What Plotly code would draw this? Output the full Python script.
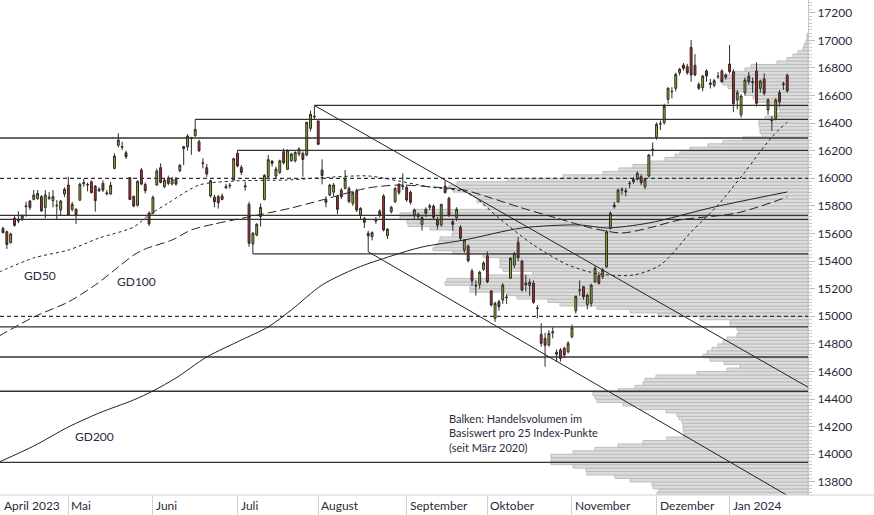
import pandas as pd
import plotly.graph_objects as go

# ---------------- data ----------------
holidays = ["2023-04-07", "2023-04-10", "2023-05-01", "2023-12-25", "2023-12-26", "2024-01-01"]
dates = pd.bdate_range("2023-04-04", "2024-01-23", freq="C", holidays=holidays)

open_ = [15637,15613,15533,15712,15690,15703,15795,15835,15847,15852,
         15867,15789,15855,15838,15805,15770,15886,15951,15775,15777,
         15842,15960,15955,15975,15944,15910,15963,15888,15886,16072,
         16239,16225,16185,16005,15869,15804,16060,15956,15748,15746,
         15951,16077,15939,16002,15958,15995,16055,16215,16229,16295,
         16309,16265,16112,16077,15872,15864,15867,15872,15930,15950,
         15987,16181,16079,15945,15811,15524,15589,15722,15847,16012,
         16125,16016,16043,16193,16065,16127,16127,16176,16181,16169,
         16362,16450,16415,16060,15845,15879,15900,15867,15915,15927,
         15927,15818,15910,15734,15710,15601,15577,15690,15763,15872,
         15584,15758,15831,15956,15940,15934,15898,15734,15722,15666,
         15775,15790,15799,15700,15662,15944,15855,15686,15715,15645,
         15480,15509,15328,15225,15232,15340,15439,15183,14985,15106,
         15118,15140,15275,15371,15536,15400,15240,15222,15239,15060,
         14869,14840,14792,14880,14740,14756,14768,14743,14852,15040,
         15190,15214,15086,15094,15251,15294,15287,15359,15637,15806,
         15831,15920,15910,15960,15975,15992,16012,15939,16017,16200,
         16297,16395,16403,16572,16630,16652,16765,16821,16809,16949,
         16819,16681,16657,16778,16690,16674,16740,16778,16732,16828,
         16773,16567,16460,16621,16741,16700,16778,16652,16720,16495,
         16425,16435,16621,16685,16744]
high = [15649,15620,15606,15725,15760,15740,15830,15842,15915,15915,
        15879,15915,15900,15915,15842,15842,15934,16011,15830,15780,
        15968,15995,15970,15985,15950,15935,15985,15915,15975,16181,
        16326,16265,16200,16010,15875,15985,16075,15970,15760,15875,
        16070,16108,16000,16020,16010,16010,16105,16235,16320,16300,
        16427,16280,16145,16105,15990,15880,15880,15890,15960,15965,
        16150,16203,16096,15975,15830,15610,15675,15818,16030,16170,
        16130,16085,16135,16215,16210,16185,16195,16225,16195,16410,
        16490,16528,16420,16137,15870,15960,15965,15880,15930,16060,
        15940,15910,15925,15790,15720,15620,15615,15720,15775,15885,
        15640,15800,15935,15965,16036,15955,15910,15780,15750,15725,
        15790,15815,15810,15720,15815,15985,15865,15700,15790,15660,
        15560,15520,15345,15260,15330,15400,15470,15190,15105,15120,
        15240,15160,15430,15465,15575,15410,15300,15270,15260,15080,
        14950,14880,14900,14920,14760,14770,14780,14820,14940,15150,
        15260,15220,15165,15235,15365,15320,15350,15625,15760,15830,
        15925,15935,15930,15980,16010,16050,16030,16000,16175,16260,
        16405,16420,16540,16660,16660,16765,16800,16835,16830,17002,
        16900,16695,16750,16790,16720,16720,16770,16790,16760,16966,
        16790,16640,16610,16730,16770,16730,16840,16715,16760,16580,
        16450,16580,16640,16700,16760]
low = [15601,15488,15528,15650,15674,15690,15722,15770,15840,15845,
       15758,15710,15842,15790,15698,15734,15866,15730,15760,15669,
       15835,15939,15905,15890,15758,15900,15900,15875,15880,16065,
       16225,16205,16140,15845,15790,15795,15950,15890,15655,15740,
       15945,15963,15930,15950,15950,15945,16045,16096,16200,16170,
       16300,16190,16072,16010,15860,15790,15780,15840,15925,15925,
       15980,16080,16024,15910,15504,15452,15580,15650,15840,16000,
       16085,16000,16030,16100,16060,16120,16115,16160,16012,16160,
       16340,16430,16240,15956,15790,15870,15870,15740,15850,15920,
       15820,15800,15755,15700,15640,15468,15550,15670,15715,15615,
       15560,15745,15820,15880,15915,15830,15810,15700,15700,15620,
       15720,15770,15700,15630,15650,15890,15720,15620,15690,15545,
       15460,15390,15220,15150,15200,15330,15240,15070,14960,15040,
       15090,15090,15270,15350,15400,15180,15180,15150,15090,14985,
       14780,14635,14780,14840,14670,14671,14700,14730,14840,15020,
       15150,15120,15050,15070,15240,15230,15270,15350,15630,15780,
       15820,15880,15870,15930,15960,15985,15950,15920,16005,16160,
       16280,16350,16390,16540,16580,16630,16745,16780,16750,16700,
       16740,16640,16630,16700,16650,16660,16720,16690,16715,16760,
       16480,16500,16440,16600,16680,16620,16520,16620,16600,16460,
       16345,16420,16520,16640,16620]
close = [15606,15521,15596,15659,15700,15729,15800,15789,15879,15890,
         15763,15879,15862,15867,15801,15835,15920,15734,15811,15734,
         15956,15968,15952,15896,15838,15920,15915,15893,15949,16161,
         16277,16229,16156,15847,15799,15978,15958,15910,15669,15862,
         16053,15970,15987,15963,15992,15958,16094,16230,16306,16290,
         16354,16200,16108,16031,15983,15830,15823,15847,15940,15946,
         16142,16089,16043,15939,15529,15601,15666,15789,16021,16135,
         16108,16067,16127,16113,16200,16176,16188,16212,16137,16405,
         16463,16446,16246,16020,15826,15951,15951,15775,15867,15992,
         15831,15896,15770,15782,15681,15582,15606,15700,15734,15625,
         15630,15790,15927,15896,15944,15843,15826,15770,15739,15715,
         15746,15800,15717,15660,15811,15896,15734,15666,15775,15565,
         15553,15403,15258,15220,15319,15386,15251,15082,15094,15070,
         15226,15135,15420,15456,15425,15190,15231,15246,15101,15057,
         14804,14790,14876,14888,14725,14695,14719,14804,14917,15144,
         15189,15142,15154,15226,15347,15239,15335,15613,15746,15794,
         15915,15915,15903,15963,15992,16036,15968,15992,16169,16210,
         16391,16394,16524,16652,16628,16753,16790,16797,16765,16749,
         16749,16652,16741,16741,16681,16707,16736,16700,16749,16773,
         16540,16620,16596,16712,16700,16695,16543,16705,16616,16567,
         16418,16567,16555,16681,16633]

# moving averages
gd50_dates = ["2023-04-03","2023-04-18","2023-05-02","2023-05-12","2023-05-25","2023-05-31","2023-06-07",
              "2023-06-19","2023-06-30","2023-07-20","2023-08-01","2023-08-18","2023-08-30","2023-09-11",
              "2023-09-25","2023-10-05","2023-10-18","2023-10-31","2023-11-10","2023-11-23","2023-12-04",
              "2023-12-14","2023-12-27","2024-01-08","2024-01-17","2024-01-23"]
gd50_vals = [15321,15423,15480,15567,15647,15734,15821,15951,15980,15988,16002,16017,15980,15937,
             15894,15712,15517,15372,15307,15299,15372,15611,15807,16046,16299,16408]
gd100_dates = ["2023-04-03","2023-04-18","2023-05-02","2023-05-11","2023-05-19","2023-05-25","2023-05-30",
               "2023-06-08","2023-06-15","2023-06-23","2023-06-30","2023-07-13","2023-07-21","2023-08-02",
               "2023-08-18","2023-08-30","2023-09-12","2023-09-22","2023-10-03","2023-10-13","2023-10-26",
               "2023-11-08","2023-11-20","2023-11-29","2023-12-11","2024-01-04","2024-01-23"]
gd100_vals = [14857,14995,15104,15227,15357,15444,15488,15553,15626,15669,15698,15749,15785,15843,
              15930,15951,15937,15915,15857,15785,15712,15640,15604,15640,15698,15749,15865]
gd200_dates = ["2023-04-03","2023-04-18","2023-05-02","2023-05-12","2023-05-25","2023-06-01","2023-06-09",
               "2023-06-21","2023-07-04","2023-07-13","2023-07-21","2023-08-02","2023-08-15","2023-08-28",
               "2023-09-07","2023-09-22","2023-10-13","2023-11-03","2023-11-14","2023-11-29","2023-12-22",
               "2024-01-23"]
gd200_vals = [13944,14060,14198,14299,14394,14459,14553,14705,14828,14923,15046,15227,15350,15437,
              15502,15553,15640,15662,15640,15676,15792,15901]

# support / resistance levels (start date None = from left edge)
level_prices = [16528, 16427, 16292, 16203, 16000, 15732, 15703, 15452, 15000, 14923, 14705, 14457, 13942]
level_starts = ["2023-07-31", "2023-06-16", None, "2023-07-03", None, None, None, "2023-07-07",
                None, None, None, None, None]
level_dashed = [False, False, False, False, True, False, False, False, True, False, False, False, False]

# trend channel
trend_upper_dates = ["2023-07-31", "2024-01-31"]
trend_upper_vals = [16528, 14477]
trend_lower_dates = ["2023-08-18", "2024-01-25"]
trend_lower_vals = [15468, 13670]

# volume profile (per 25 index points, lower bin edge from 13700)
vp_step = 25
vp_start = 13700
vp_volume = [151,149,155,156,178,193,221,222,235,257,257,257,235,
             213,190,165,141,124,124,125,125,126,129,131,142,
             168,185,211,213,215,190,173,165,163,152,111,81,
             68,84,98,105,101,96,90,85,81,71,69,71,
             78,78,108,150,178,211,248,260,291,301,338,338,
             363,361,320,275,305,308,308,308,325,355,375,372,
             369,368,356,355,378,400,401,408,408,395,320,325,
             331,331,338,355,359,351,300,245,205,189,175,158,
             143,133,128,118,100,85,65,46,48,48,49,49,
             43,30,28,33,41,51,55,63,73,80,85,88,
             86,73,63,57,31,21,15,10,5,4,2,1,1]
vp_levels = [vp_start + vp_step * i + vp_step / 2 for i in range(len(vp_volume))]

yticks = list(range(13800, 17201, 200))
month_dates = ["2023-05-02", "2023-06-01", "2023-07-03", "2023-08-01", "2023-09-01",
               "2023-10-02", "2023-11-01", "2023-12-01", "2024-01-02"]
month_labels = ["Mai", "Juni", "Juli", "August", "September", "Oktober", "November", "Dezember", "Jan 2024"]

# ---------------- figure ----------------
X_START = "2023-04-03 05:17"
X_END = "2024-01-30 09:36"
FONT = "Lato, Open Sans, sans-serif"
TXT = "#2a2a3c"

fig = go.Figure()

# volume profile on base axis (drawn beneath)
fig.add_trace(go.Bar(x=vp_volume, y=vp_levels, orientation="h", width=vp_step,
                     marker=dict(color="#dcdcdc", line=dict(color="#bcbcbc", width=1)),
                     xaxis="x", yaxis="y", hoverinfo="skip", showlegend=False))

# levels
for p, s, d in zip(level_prices, level_starts, level_dashed):
    fig.add_trace(go.Scatter(x=[s or X_START, X_END], y=[p, p], mode="lines", xaxis="x2", yaxis="y",
                             line=dict(color="#333333", width=1.3, dash="4px,3px" if d else "solid"),
                             hoverinfo="skip", showlegend=False))

# trend lines
for dx, vy in [(trend_upper_dates, trend_upper_vals), (trend_lower_dates, trend_lower_vals)]:
    fig.add_trace(go.Scatter(x=dx, y=vy, mode="lines", xaxis="x2", yaxis="y",
                             line=dict(color="#222222", width=1), hoverinfo="skip", showlegend=False))

# moving averages
for dx, vy, dash in [(gd50_dates, gd50_vals, "3px,3px"), (gd100_dates, gd100_vals, "9px,4px"),
                     (gd200_dates, gd200_vals, "solid")]:
    fig.add_trace(go.Scatter(x=dx, y=vy, mode="lines", xaxis="x2", yaxis="y",
                             line=dict(color="#222222", width=1, dash=dash, shape="spline", smoothing=0.8),
                             hoverinfo="skip", showlegend=False))

# candles
fig.add_trace(go.Candlestick(x=dates, open=open_, high=high, low=low, close=close,
                             xaxis="x2", yaxis="y",
                             increasing=dict(fillcolor="#9ab51b", line=dict(color="#2b2b2b", width=1)),
                             decreasing=dict(fillcolor="#c0281c", line=dict(color="#2b2b2b", width=1)),
                             whiskerwidth=0, showlegend=False))

annotations = []
for d, lab in zip(month_dates, month_labels):
    annotations.append(dict(x=d, xref="x2", y=-0.0222, yref="paper", text=lab, showarrow=False,
                            xanchor="left", yanchor="middle", xshift=1,
                            font=dict(family=FONT, size=12, color=TXT)))
annotations.append(dict(x=0.002, xref="paper", y=-0.0222, yref="paper", text="April 2023", showarrow=False,
                        xanchor="left", yanchor="middle", font=dict(family=FONT, size=12, color=TXT)))
for txt, ax, ay in [("GD50", 22, 275), ("GD100", 115, 281), ("GD200", 73, 436)]:
    annotations.append(dict(x=ax / 808, xref="paper", y=(495 - ay) / 495, yref="paper", text=txt,
                            showarrow=False, xanchor="left", yanchor="middle",
                            font=dict(family=FONT, size=12, color=TXT)))
annotations.append(dict(x=447 / 808, xref="paper", y=(495 - 410) / 495, yref="paper",
                        text="Balken: Handelsvolumen im<br>Basiswert pro 25 Index-Punkte<br>(seit März 2020)",
                        showarrow=False, xanchor="left", yanchor="top", align="left",
                        font=dict(family=FONT, size=11, color=TXT)))

fig.update_layout(
    width=874, height=515,
    margin=dict(l=0, r=66, t=0, b=20),
    paper_bgcolor="white", plot_bgcolor="white",
    showlegend=False,
    xaxis=dict(range=[808, 0], visible=False, fixedrange=True, domain=[0, 1]),
    xaxis2=dict(type="date", overlaying="x", anchor="y", side="bottom", range=[X_START, X_END],
                rangebreaks=[dict(bounds=["sat", "mon"]), dict(values=holidays)],
                rangeslider=dict(visible=False), showgrid=False, zeroline=False, showline=False,
                ticks="outside", ticklen=20, tickcolor="#d0d0d0", tickwidth=1,
                tickmode="array", tickvals=month_dates, showticklabels=False),
    yaxis=dict(side="right", range=[13705, 17292], showgrid=False, zeroline=False,
               showline=True, linecolor="#c8c8c8", linewidth=1,
               tickmode="array", tickvals=yticks, ticktext=[str(v) for v in yticks],
               ticks="outside", ticklen=6, tickcolor="#bbbbbb",
               minor=dict(dtick=25, ticks="outside", ticklen=3, tickcolor="#cccccc"),
               tickfont=dict(family=FONT, size=12, color=TXT)),
    annotations=annotations,
    shapes=[dict(type="line", xref="paper", yref="paper", x0=0, x1=874 / 808, y0=0, y1=0,
                 line=dict(color="#d0d0d0", width=1))],
)

fig.write_html("out.html", config={"displayModeBar": False},
               post_script="document.body.style.margin='0';document.body.style.padding='0';"
                           "window.dispatchEvent(new Event('resize'));")
